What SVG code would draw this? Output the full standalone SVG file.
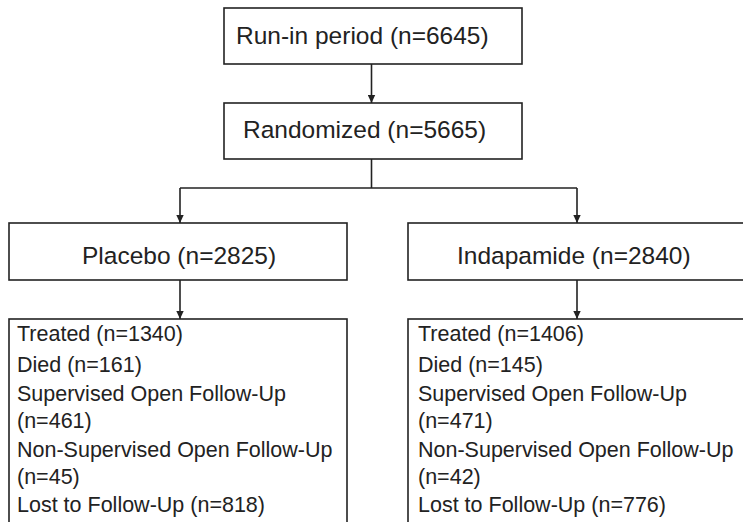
<svg xmlns="http://www.w3.org/2000/svg" width="743" height="522" viewBox="0 0 743 522">
<style>
.box{fill:#fff;stroke:#222;stroke-width:1.6}
.t{font-family:"Liberation Sans",Arial,sans-serif;font-size:24.5px;fill:#222}
.l{font-family:"Liberation Sans",Arial,sans-serif;font-size:21.5px;fill:#222}
.c{fill:none;stroke:#222;stroke-width:1.6}
</style>
<defs>
<marker id="ah" markerUnits="userSpaceOnUse" markerWidth="8" markerHeight="8" viewBox="0 0 8 8" refX="8" refY="4" orient="auto">
<path d="M0 0.3 L8 4 L0 7.7 Z" fill="#222"/>
</marker>
</defs>
<rect width="743" height="522" fill="#fff"/>
<g id="connectors">
<path class="c" d="M371.5 64 V103" marker-end="url(#ah)"/>
<path class="c" d="M371.5 159 V188"/>
<path class="c" d="M180 188 H577"/>
<path class="c" d="M180 188 V223" marker-end="url(#ah)"/>
<path class="c" d="M577 188 V223" marker-end="url(#ah)"/>
<path class="c" d="M180 280 V319" marker-end="url(#ah)"/>
<path class="c" d="M577 280 V319" marker-end="url(#ah)"/>
</g>
<g id="runin">
<rect class="box" x="224" y="8" width="298" height="56"/>
<text class="t" x="236" y="44">Run-in period (n=6645)</text>
</g>
<g id="randomized">
<rect class="box" x="224" y="103" width="298" height="56"/>
<text class="t" x="243" y="138">Randomized (n=5665)</text>
</g>
<g id="placebo">
<rect class="box" x="9" y="223" width="338" height="57"/>
<text class="t" x="82" y="264">Placebo (n=2825)</text>
</g>
<g id="indapamide">
<rect class="box" x="408" y="223" width="345" height="57"/>
<text class="t" x="457" y="264">Indapamide (n=2840)</text>
</g>
<g id="placebo-outcomes">
<rect class="box" x="9" y="319" width="338" height="220"/>
<text class="l" x="17" y="341">Treated (n=1340)</text>
<text class="l" x="17" y="372">Died (n=161)</text>
<text class="l" x="17" y="401">Supervised Open Follow-Up</text>
<text class="l" x="17" y="428">(n=461)</text>
<text class="l" x="17" y="457">Non-Supervised Open Follow-Up</text>
<text class="l" x="17" y="484">(n=45)</text>
<text class="l" x="17" y="512">Lost to Follow-Up (n=818)</text>
</g>
<g id="indapamide-outcomes">
<rect class="box" x="408" y="319" width="345" height="220"/>
<text class="l" x="418" y="341">Treated (n=1406)</text>
<text class="l" x="418" y="372">Died (n=145)</text>
<text class="l" x="418" y="401">Supervised Open Follow-Up</text>
<text class="l" x="418" y="428">(n=471)</text>
<text class="l" x="418" y="457">Non-Supervised Open Follow-Up</text>
<text class="l" x="418" y="484">(n=42)</text>
<text class="l" x="418" y="512">Lost to Follow-Up (n=776)</text>
</g>
</svg>
